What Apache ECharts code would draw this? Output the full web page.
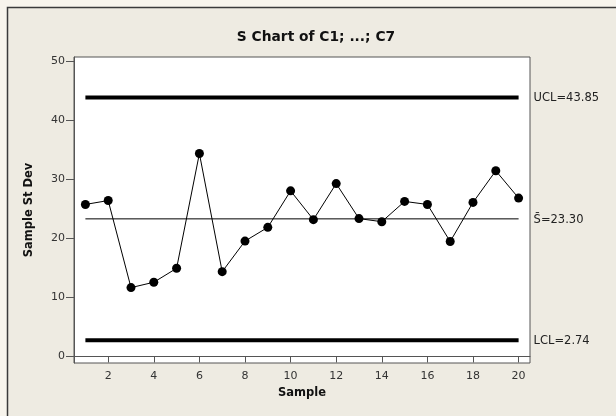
<!DOCTYPE html>
<html>
<head>
<meta charset="utf-8">
<script src="https://cdn.jsdelivr.net/npm/echarts@6/dist/echarts.min.js"></script>
<style>
  html, body { margin: 0; padding: 0; background: #F7F4EC; }
  #chart { width: 616px; height: 416px; }
</style>
</head>
<body>
<div id="chart"></div>
<script>
// S chart: sample standard deviations with control limits
const samples = [1,2,3,4,5,6,7,8,9,10,11,12,13,14,15,16,17,18,19,20];
const stDevs = [25.74, 26.40, 11.66, 12.57, 14.93, 34.36, 14.36, 19.54, 21.86, 28.04,
                23.17, 29.27, 23.34, 22.82, 26.25, 25.74, 19.46, 26.08, 31.44, 26.82];
const ucl = 43.85;
const sBar = 23.30;
const lcl = 2.74;
const xTicks = [2,4,6,8,10,12,14,16,18,20];
const yTicks = [0,10,20,30,40,50];

const first = samples[0];
const last = samples[samples.length - 1];
const font = '"DejaVu Sans", Verdana, sans-serif';

function limitSeries(value, width, text) {
  return {
    type: 'line',
    data: [[first, value], [last, value]],
    symbol: 'none',
    silent: true,
    lineStyle: { color: '#000', width: width },
    endLabel: {
      show: true,
      formatter: text,
      distance: 15,
      offset: [0, 1],
      color: '#222',
      fontFamily: font,
      fontSize: 11.5
    },
    z: 2
  };
}

const chart = echarts.init(document.getElementById('chart'), null, { renderer: 'canvas' });
chart.setOption({
  backgroundColor: '#F7F4EC',
  animation: false,
  graphic: [{
    type: 'rect',
    shape: { x: 7.5, y: 7.5, width: 640, height: 440 },
    style: { fill: '#EEEBE2', stroke: '#3a3a3a', lineWidth: 1.5 },
    z: -10, silent: true
  }, {
    type: 'text',
    x: 316, y: 37.5,
    style: {
      text: 'S Chart of C1; ...; C7',
      fill: '#111',
      font: 'bold 13.8px "DejaVu Sans", Verdana, sans-serif',
      textAlign: 'center', textVerticalAlign: 'middle'
    },
    silent: true
  }],
  grid: {
    left: 74, right: 86, top: 57, bottom: 53,
    show: true, backgroundColor: '#fff', borderColor: '#555', borderWidth: 1
  },
  xAxis: {
    type: 'value', min: 0.5, max: 20.5,
    name: 'Sample', nameLocation: 'middle', nameGap: 24,
    nameTextStyle: { fontFamily: font, fontSize: 11.5, fontWeight: 'bold', color: '#111' },
    axisLine: { show: true, lineStyle: { color: '#555' } },
    axisTick: { show: true, length: 6, lineStyle: { color: '#555' }, customValues: xTicks },
    axisLabel: { color: '#333', fontFamily: font, fontSize: 11, margin: 8, customValues: xTicks },
    splitLine: { show: false }
  },
  yAxis: {
    type: 'value', min: -1.1, max: 50.7,
    name: 'Sample St Dev', nameLocation: 'middle', nameGap: 39,
    nameTextStyle: { fontFamily: font, fontSize: 11.5, fontWeight: 'bold', color: '#111' },
    axisLine: { show: true, lineStyle: { color: '#555' } },
    axisTick: { show: true, length: 8, lineStyle: { color: '#555' }, customValues: yTicks },
    axisLabel: { color: '#333', fontFamily: font, fontSize: 11, margin: 9, customValues: yTicks },
    splitLine: { show: false }
  },
  series: [
    limitSeries(ucl, 4, 'UCL=' + ucl.toFixed(2)),
    limitSeries(sBar, 1, 'S\u0304=' + sBar.toFixed(2)),
    limitSeries(lcl, 4, 'LCL=' + lcl.toFixed(2)),
    {
      type: 'line',
      data: samples.map((s, i) => [s, stDevs[i]]),
      symbol: 'circle', symbolSize: 9,
      itemStyle: { color: '#000' },
      lineStyle: { color: '#000', width: 1 },
      z: 3
    }
  ]
});
</script>
</body>
</html>
